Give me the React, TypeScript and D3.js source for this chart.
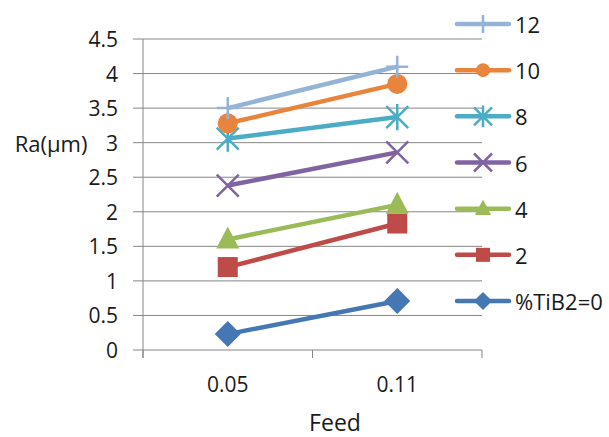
import React from "react";
import * as d3 from "d3";

const categories = ["0.05", "0.11"];
const seriesNames = ["12", "10", "8", "6", "4", "2", "%TiB2=0"];
const seriesColors = ["#95B3D7", "#E8843C", "#4BACC6", "#8064A2", "#9BBB59", "#BE4B48", "#4577B5"];
const seriesMarkers = ["plus", "circle", "star", "x", "triangle", "square", "diamond"];
const values12 = [3.5, 4.1];
const values10 = [3.28, 3.85];
const values8 = [3.06, 3.37];
const values6 = [2.38, 2.86];
const values4 = [1.6, 2.1];
const values2 = [1.2, 1.83];
const values0 = [0.23, 0.71];
const seriesValues = [values12, values10, values8, values6, values4, values2, values0];
const yTicks = [0, 0.5, 1, 1.5, 2, 2.5, 3, 3.5, 4, 4.5];

const FONT = "'Open Sans', 'Liberation Sans', sans-serif";

function Marker({ type, x, y, color, s }: { type: string; x: number; y: number; color: string; s: number }) {
  switch (type) {
    case "circle":
      return <circle cx={x} cy={y} r={s} fill={color} />;
    case "square":
      return <rect x={x - s} y={y - s} width={2 * s} height={2 * s} fill={color} />;
    case "diamond":
      return <path d={`M${x},${y - s * 1.3}L${x + s * 1.3},${y}L${x},${y + s * 1.3}L${x - s * 1.3},${y}Z`} fill={color} />;
    case "triangle":
      return <path d={`M${x},${y - s * 1.3}L${x + s * 1.15},${y + s * 0.9}L${x - s * 1.15},${y + s * 0.9}Z`} fill={color} />;
    case "plus":
      return <path d={`M${x - s},${y}H${x + s}M${x},${y - s}V${y + s}`} stroke={color} strokeWidth={2.5} fill="none" />;
    case "x":
      return <path d={`M${x - s},${y - s}L${x + s},${y + s}M${x - s},${y + s}L${x + s},${y - s}`} stroke={color} strokeWidth={2.5} fill="none" />;
    case "star":
      return (
        <path
          d={`M${x - s},${y - s}L${x + s},${y + s}M${x - s},${y + s}L${x + s},${y - s}M${x},${y - s * 1.2}V${y + s * 1.2}`}
          stroke={color}
          strokeWidth={2.5}
          fill="none"
        />
      );
    default:
      return null;
  }
}

export default function App() {
  const W = 609, H = 437;
  const left = 143, right = 482, top = 39, bottom = 350;
  const x = d3.scaleBand().domain(categories).range([left, right]);
  const y = d3.scaleLinear().domain([0, 4.5]).range([bottom, top]);
  const line = d3
    .line<[string, number]>()
    .x((d) => (x(d[0]) as number) + x.bandwidth() / 2)
    .y((d) => y(d[1]));
  const grid = "#868686";
  const legendY = d3.scaleLinear().domain([0, 6]).range([24, 301]);

  return (
    <svg width={W} height={H} style={{ position: "absolute", left: 0, top: 0, background: "#fff" }} fontFamily={FONT}>
      {yTicks.map((t) => (
        <g key={t}>
          <line x1={left} x2={right} y1={y(t)} y2={y(t)} stroke={grid} strokeWidth={1} />
          <line x1={133} x2={left} y1={y(t)} y2={y(t)} stroke={grid} strokeWidth={1} />
          <text x={118} y={y(t)} textAnchor="end" dominantBaseline="central" fontSize={21} fill="#1a1a1a">
            {t}
          </text>
        </g>
      ))}
      <line x1={left} x2={left} y1={top} y2={bottom + 8} stroke={grid} />
      {[0, 1, 2].map((i) => {
        const xx = left + i * x.bandwidth();
        return <line key={i} x1={xx} x2={xx} y1={bottom} y2={bottom + 8} stroke={grid} />;
      })}
      {categories.map((c) => (
        <text key={c} x={(x(c) as number) + x.bandwidth() / 2} y={384} textAnchor="middle" dominantBaseline="central" fontSize={21} fill="#1a1a1a">
          {c}
        </text>
      ))}
      <text x={335} y={422} textAnchor="middle" dominantBaseline="central" fontSize={23} fill="#1a1a1a">
        Feed
      </text>
      <text x={51} y={y(3)} textAnchor="middle" dominantBaseline="central" fontSize={22} fill="#1a1a1a">
        Ra(μm)
      </text>
      {seriesValues
        .map((vals, i) => ({ vals, i }))
        .reverse()
        .map(({ vals, i }) => {
          const pts: [string, number][] = categories.map((c, j) => [c, vals[j]]);
          return (
            <g key={i}>
              <path d={line(pts) || ""} stroke={seriesColors[i]} strokeWidth={4.5} fill="none" />
              {pts.map((p, j) => (
                <Marker key={j} type={seriesMarkers[i]} x={(x(p[0]) as number) + x.bandwidth() / 2} y={y(p[1])} color={seriesColors[i]} s={seriesMarkers[i] === "plus" || seriesMarkers[i] === "x" || seriesMarkers[i] === "star" ? 11 : 10} />
              ))}
            </g>
          );
        })}
      {seriesNames.map((n, i) => {
        const ly = legendY(i);
        return (
          <g key={n}>
            <line x1={457} x2={509} y1={ly} y2={ly} stroke={seriesColors[i]} strokeWidth={4.5} strokeLinecap="round" />
            <Marker type={seriesMarkers[i]} x={483} y={ly} color={seriesColors[i]} s={seriesMarkers[i] === "plus" || seriesMarkers[i] === "x" || seriesMarkers[i] === "star" ? 9 : 7} />
            <text x={515} y={ly} dominantBaseline="central" fontSize={22} fill="#1a1a1a">
              {n}
            </text>
          </g>
        );
      })}
    </svg>
  );
}
